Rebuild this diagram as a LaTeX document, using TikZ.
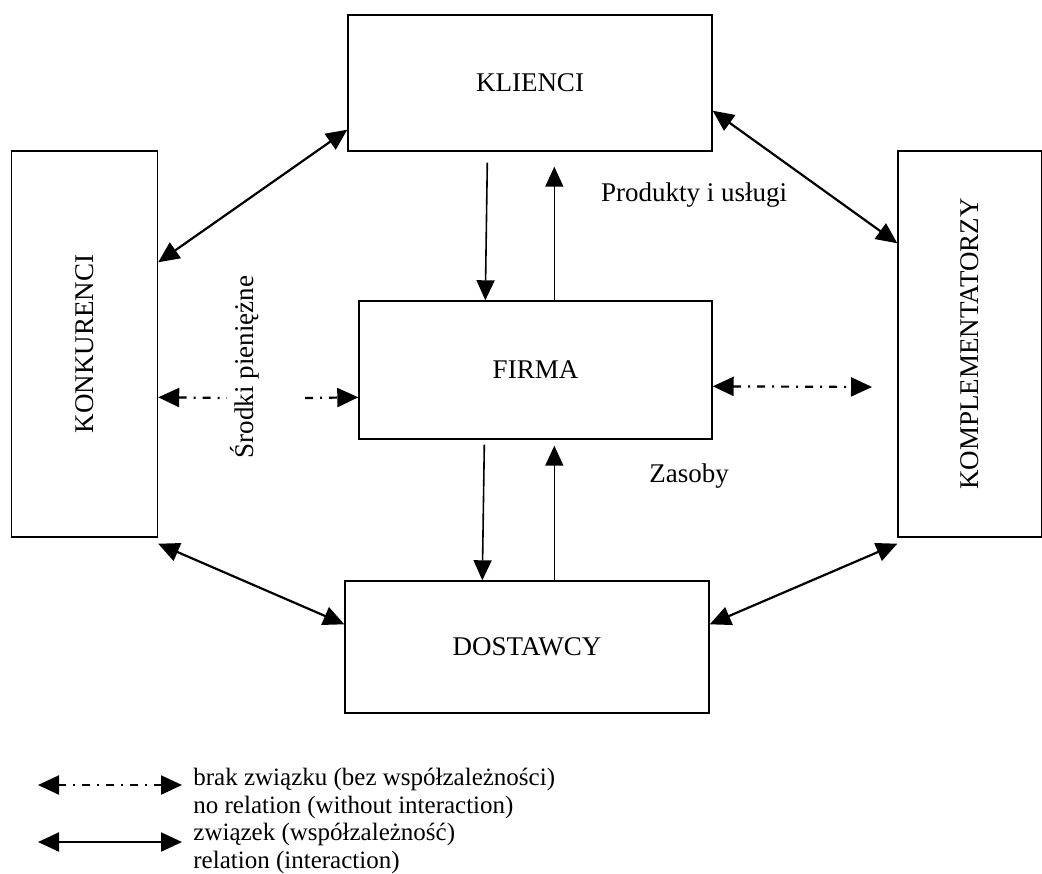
\documentclass[tikz,border=0pt]{standalone}
\usepackage{fontspec}
\setmainfont{Liberation Serif}
\usetikzlibrary{arrows.meta}

\begin{document}
\begin{tikzpicture}[x=0.5pt,y=-0.5pt,
        box/.style={draw,line width=0.7pt,inner sep=0pt,font=\fontsize{13.5}{16}\selectfont},
        vbox/.style={box,minimum width=73pt,minimum height=193pt},
        tip/.tip={Triangle[length=10.5pt,width=9.5pt]},
        rel/.style={tip-tip,line width=1.1pt},
        flow/.style={-{Triangle[length=10pt,width=9pt]},line width=0.8pt},
        dashdot/.style={line width=1.1pt,dash pattern=on 4pt off 3.5pt on 1pt off 3.5pt},
        lbl/.style={font=\fontsize{13.5}{16}\selectfont,inner sep=0pt}
    ]
        \useasboundingbox (0,0) rectangle (1042,873);

        % Define the boxes
        \node[box,minimum width=182pt,minimum height=68pt] (klienci) at (530,83) {KLIENCI};
        \node[box,minimum width=176.5pt,minimum height=69pt] (firma) at (535.5,370) {FIRMA};
        \node[box,minimum width=182pt,minimum height=66pt] (dostawcy) at (527,647) {DOSTAWCY};
        \node[vbox,label={[lbl,rotate=90]center:KONKURENCI}] (konk) at (84.5,344) {};
        \node[vbox,minimum width=72pt,label={[lbl,rotate=90]center:KOMPLEMENTATORZY}] (kompl) at (970,344) {};

        % Labels of the flows
        \node[lbl] (produkty) at (694,195) {Produkty i usługi};
        \node[lbl] (zasoby) at (689,476) {Zasoby};
        \node[lbl,rotate=90] (srodki) at (245,367) {Środki pieniężne};

        % Relations (interaction)
        \draw [rel] ([yshift=-56pt]konk.north east) -- ([yshift=11pt]klienci.south west);
        \draw [rel] ([yshift=20.5pt]klienci.south east) -- ([yshift=-46.5pt]kompl.north west);
        \draw [rel] ([yshift=-3pt]konk.south east) -- ([yshift=-22pt]dostawcy.north west);
        \draw [rel] ([yshift=-22pt]dostawcy.north east) -- ([yshift=-3pt]kompl.south west);

        % Flows between the firm and customers / suppliers
        \draw [flow] ([xshift=70pt,yshift=-5.5pt]klienci.south west) -- ([xshift=63.5pt]firma.north west);
        \draw [flow] ([xshift=98pt]firma.north west) -- ([xshift=103.5pt,yshift=-7.5pt]klienci.south west);
        \draw [flow] ([xshift=63pt,yshift=-2.5pt]firma.south west) -- ([xshift=69pt]dostawcy.north west);
        \draw [flow] ([xshift=105pt]dostawcy.north west) -- ([xshift=98pt,yshift=-3pt]firma.south west);

        % No relation (without interaction)
        \coordinate (gapL) at (227,398);
        \coordinate (gapR) at (305,398);
        \coordinate (komplEnd) at (872,387);
        \draw [dashdot,tip-] ([yshift=-123.5pt]konk.north east) -- (gapL);
        \draw [dashdot,-tip] (gapR) -- ([yshift=-48.5pt]firma.north west);
        \draw [dashdot,tip-tip] ([yshift=-43pt]firma.north east) -- (komplEnd);

        % Legend
        \coordinate (legA1) at (38,785);
        \coordinate (legA2) at (182,785);
        \coordinate (legB1) at (38,842);
        \coordinate (legB2) at (182,842);
        \draw [dashdot,tip-tip] (legA1) -- (legA2);
        \draw [rel] (legB1) -- (legB2);
        \node[anchor=west,align=left,inner sep=0pt,font=\fontsize{12.5}{13.9}\selectfont] (legend) at (193,821)
            {brak związku (bez współzależności)\\no relation (without interaction)\\związek (współzależność)\\relation (interaction)};
    \end{tikzpicture}
\end{document}
